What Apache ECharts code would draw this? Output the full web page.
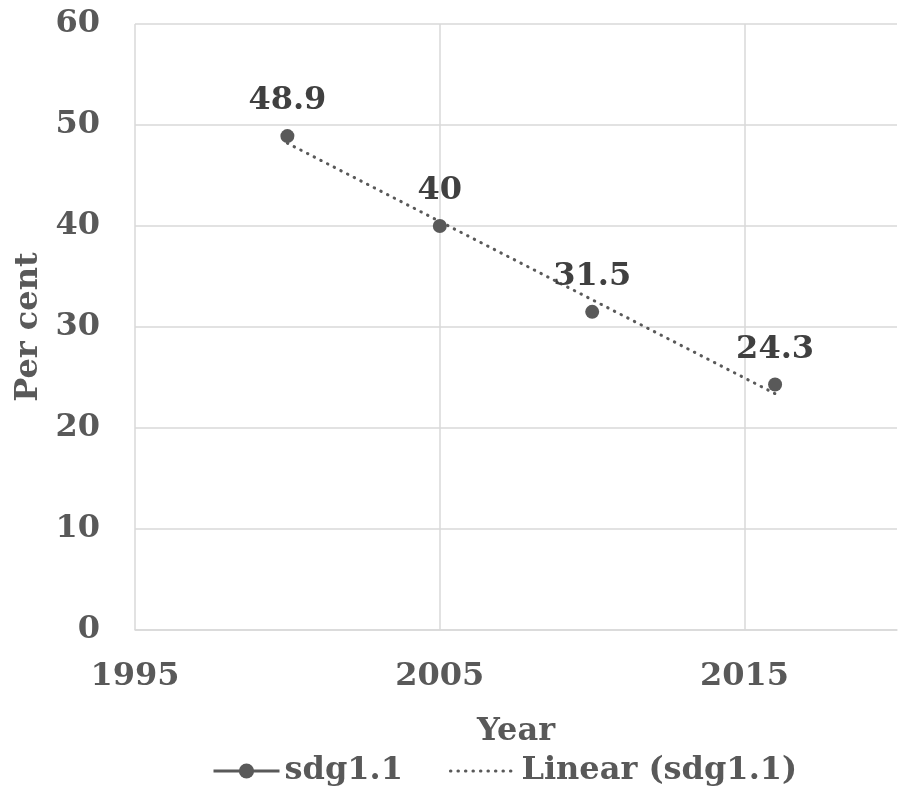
<!DOCTYPE html>
<html>
<head>
<meta charset="utf-8">
<script src="https://cdn.jsdelivr.net/npm/echarts@6/dist/echarts.min.js"></script>
<style>html,body{margin:0;padding:0;background:#fff}#c{width:898px;height:795px}</style>
</head>
<body>
<div id="c"></div>
<script>
const years = [2000, 2005, 2010, 2016];
const values = [48.9, 40, 31.5, 24.3];
const trendYears = [2000, 2016];
const trendValues = [48.2, 23.4];
const xTicks = [1995, 2005, 2015];
const yTicks = [0, 10, 20, 30, 40, 50, 60];

const FONT = 'DejaVu Serif';
const GREY = '#595959';
const FS = 32;
const chart = echarts.init(document.getElementById('c'));
chart.setOption({
  animation: false,
  backgroundColor: '#fff',
  grid: { left: 135, right: 1, top: 24, bottom: 165, containLabel: false },
  xAxis: {
    type: 'value', min: xTicks[0], max: 2020, interval: xTicks[1] - xTicks[0],
    name: 'Year', nameLocation: 'middle', nameGap: 86,
    nameTextStyle: { fontFamily: FONT, fontWeight: 'bold', fontSize: FS, color: GREY },
    axisLine: { show: true, lineStyle: { color: '#d9d9d9', width: 1.5 } },
    axisTick: { show: false },
    axisLabel: { fontFamily: FONT, fontWeight: 'bold', fontSize: FS, color: GREY, margin: 31, showMaxLabel: false, showMinLabel: true, formatter: v => String(v) },
    splitLine: { show: true, showMaxLine: false, lineStyle: { color: '#d9d9d9', width: 1.5 } }
  },
  yAxis: {
    type: 'value', min: yTicks[0], max: yTicks[yTicks.length - 1], interval: yTicks[1] - yTicks[0],
    name: 'Per cent', nameLocation: 'middle', nameGap: 86, nameRotate: 90,
    nameTextStyle: { fontFamily: FONT, fontWeight: 'bold', fontSize: FS, color: GREY },
    axisLine: { show: false },
    axisTick: { show: false },
    axisLabel: { fontFamily: FONT, fontWeight: 'bold', fontSize: FS, color: GREY, margin: 35 },
    splitLine: { show: true, lineStyle: { color: '#d9d9d9', width: 1.5 } }
  },
  legend: {
    bottom: 3, left: 207,
    itemWidth: 66, itemHeight: 19, itemGap: 46,
    textStyle: { fontFamily: FONT, fontWeight: 'bold', fontSize: FS, color: GREY },
    data: [
      { name: 'sdg1.1', lineStyle: { width: 3, color: GREY, opacity: 1 } },
      { name: 'Linear (sdg1.1)', itemStyle: { opacity: 0 }, lineStyle: { width: 3, color: GREY, type: [0.5, 7], cap: 'round' } }
    ]
  },
  series: [
    {
      name: 'Linear (sdg1.1)', type: 'line', z: 2,
      data: trendYears.map((y, i) => [y, trendValues[i]]),
      showSymbol: false, symbol: 'none',
      lineStyle: { color: GREY, width: 3, type: [0.5, 7], cap: 'round' },
      itemStyle: { color: GREY },
      silent: true
    },
    {
      name: 'sdg1.1', type: 'line', z: 3,
      data: years.map((y, i) => [y, values[i]]),
      symbol: 'circle', symbolSize: 14,
      itemStyle: { color: GREY },
      lineStyle: { width: 0, color: GREY },
      label: { show: true, position: 'top', distance: 12, fontFamily: FONT, fontWeight: 'bold', fontSize: FS, color: '#404040' }
    }
  ]
});
</script>
</body>
</html>
